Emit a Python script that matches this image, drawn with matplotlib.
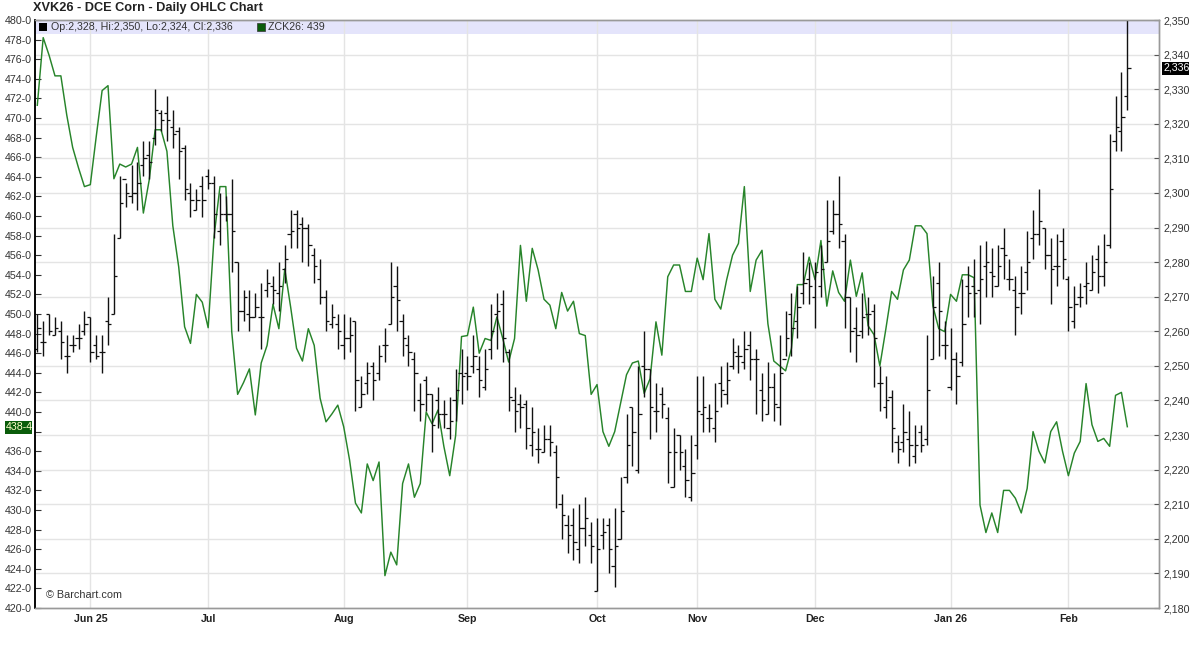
import matplotlib
matplotlib.use("Agg")
import matplotlib.pyplot as plt
from matplotlib.patches import Rectangle
import numpy as np

plt.rcParams["font.family"] = ["Liberation Sans", "DejaVu Sans"]

# DCE corn daily bars, May contract
hi = [2265,2263,2265,2264,2263,2259,2259,2262,2266,2264,2259,2259,2270,2288,2305,2303,2308,2309,2315,2315,
      2330,2324,2328,2324,2319,2314,2303,2301,2305,2307,2305,2300,2299,2304,2280,2272,2272,2271,2274,2278,
      2276,2280,2285,2295,2295,2293,2291,2284,2281,2272,2268,2265,2265,2264,2263,2247,2251,2251,2256,2261,
      2280,2279,2265,2259,2254,2245,2247,2242,2244,2240,2241,2249,2255,2253,2259,2253,2255,2268,2271,2272,
      2255,2244,2242,2240,2238,2232,2233,2233,2227,2213,2207,2209,2210,2212,2205,2206,2206,2206,2209,2218,
      2236,2238,2250,2260,2249,2245,2244,2238,2232,2230,2226,2230,2247,2247,2239,2245,2250,2251,2258,2256,
      2260,2260,2255,2248,2251,2248,2259,2266,2271,2273,2283,2280,2280,2285,2298,2298,2305,2288,2270,2267,
      2271,2270,2268,2250,2247,2243,2230,2239,2237,2233,2233,2259,2276,2280,2263,2261,2254,2275,2279,2281,
      2285,2286,2284,2285,2290,2281,2276,2279,2289,2295,2301,2290,2287,2288,2290,2276,2273,2274,2280,2282,
      2285,2288,2317,2328,2335,2350]
lo = [2254,2253,2259,2259,2252,2248,2254,2255,2259,2251,2252,2248,2256,2265,2287,2296,2297,2295,2305,2304,
      2314,2318,2315,2313,2304,2298,2293,2295,2293,2301,2287,2285,2292,2277,2260,2263,2260,2264,2255,2270,
      2268,2266,2274,2284,2284,2280,2279,2274,2268,2260,2261,2255,2252,2254,2237,2238,2242,2240,2246,2251,
      2262,2260,2253,2250,2237,2234,2237,2225,2232,2232,2229,2234,2239,2243,2248,2241,2243,2252,2255,2251,
      2237,2231,2232,2226,2224,2222,2225,2224,2209,2200,2196,2194,2193,2198,2193,2185,2197,2190,2186,2200,
      2216,2221,2219,2241,2229,2231,2235,2216,2215,2220,2212,2211,2223,2231,2231,2228,2238,2239,2249,2248,
      2249,2246,2236,2234,2236,2234,2233,2253,2253,2258,2268,2268,2261,2270,2280,2288,2284,2261,2254,2251,
      2258,2259,2244,2237,2235,2225,2222,2225,2221,2222,2225,2227,2252,2253,2252,2243,2239,2250,2264,2264,
      2262,2270,2270,2273,2275,2272,2259,2265,2272,2281,2285,2278,2268,2273,2275,2260,2261,2267,2268,2272,
      2271,2273,2284,2312,2312,2324]
op = [2255,2257,2265,2259,2260,2253,2256,2258,2260,2264,2256,2254,2263,2265,2287,2304,2299,2300,2308,2311,
      2316,2323,2323,2319,2318,2313,2300,2295,2302,2305,2303,2289,2294,2294,2280,2266,2265,2264,2264,2272,
      2273,2271,2278,2288,2294,2291,2290,2282,2275,2270,2262,2262,2256,2258,2263,2238,2245,2250,2248,2256,
      2262,2273,2263,2256,2252,2240,2246,2242,2240,2236,2232,2240,2248,2248,2250,2249,2244,2255,2265,2268,
      2254,2240,2239,2239,2227,2226,2225,2229,2225,2210,2204,2204,2197,2203,2201,2185,2201,2204,2192,2200,
      2218,2238,2220,2250,2249,2237,2242,2235,2215,2230,2221,2212,2227,2236,2235,2232,2245,2242,2250,2253,
      2251,2256,2252,2243,2236,2244,2238,2252,2265,2263,2271,2275,2270,2273,2280,2289,2294,2286,2270,2261,
      2260,2265,2266,2245,2238,2241,2228,2228,2229,2224,2231,2229,2252,2274,2256,2244,2252,2251,2273,2273,
      2272,2279,2277,2273,2284,2275,2272,2271,2277,2287,2288,2290,2282,2279,2286,2275,2263,2270,2273,2272,
      2281,2276,2285,2315,2318,2328]
cl = [2261,2257,2260,2261,2257,2253,2256,2258,2262,2254,2253,2254,2262,2276,2297,2300,2300,2303,2310,2309,
      2324,2321,2321,2317,2312,2301,2298,2298,2298,2303,2294,2294,2294,2289,2266,2270,2264,2267,2264,2274,
      2272,2273,2281,2289,2290,2290,2285,2279,2270,2263,2264,2260,2258,2259,2246,2242,2248,2246,2253,2256,
      2270,2269,2258,2254,2248,2239,2242,2233,2236,2236,2234,2243,2247,2247,2253,2246,2249,2260,2266,2258,
      2241,2237,2238,2232,2231,2226,2229,2228,2218,2207,2201,2199,2203,2206,2198,2197,2202,2197,2198,2208,
      2227,2231,2236,2249,2238,2237,2239,2225,2225,2225,2217,2219,2237,2238,2235,2237,2243,2246,2254,2253,
      2255,2252,2252,2240,2244,2239,2248,2258,2261,2267,2274,2273,2277,2278,2286,2294,2291,2270,2260,2259,
      2264,2265,2258,2245,2240,2232,2226,2231,2227,2227,2227,2243,2267,2266,2256,2252,2247,2262,2271,2271,
      2275,2280,2276,2279,2282,2275,2267,2271,2280,2288,2292,2282,2278,2279,2281,2267,2268,2270,2274,2277,
      2276,2280,2301,2319,2322,2336]

# CBOT corn (ZCK26), left scale
corn = [471.3,478.2,476.4,474.3,474.3,470.3,467,464.9,463,463.2,468.1,472.8,473.3,463.8,465.3,465,465.3,467,460.3,463.7,
        468.8,468.8,466.6,459,454.8,448.7,447,452,451.2,448.6,457.9,463,463,448.2,441.8,443,444.4,439.7,445,446.8,
        451,448.5,454.6,450.7,446.5,445.2,448.5,446.8,441.4,439,439.8,440.7,438.5,435.1,430.7,429.7,434.7,433,434.9,423.3,
        425.7,424.4,432.7,434.7,431.3,432.7,440,438.8,440.2,436.5,433.5,437.6,447.7,447.8,450.7,446,447.5,447.3,449.7,447.5,
        445.1,447.5,457,451.3,456.7,454.5,451.5,450.9,448.5,452.2,450.3,451.3,448,447.8,441.8,442.8,438,436.5,438,440.9,
        443.8,445,445.2,441.9,443.4,449.2,445.8,453.8,455,455,452.3,452.3,455.7,453.5,458.2,451.5,450.5,453.5,456,457.2,
        463,452.3,455.5,456.5,449,445.2,444.7,444.2,446.5,453,453,455.8,453.5,457.5,450.8,454.4,452.2,451.3,455.5,451.8,
        454.2,448.8,447.9,444.7,448.4,452.3,451.5,454.5,455.5,459,459,458.2,450.8,448.5,448.2,452,451.3,454,454,453.7,
        430.5,427.7,429.7,427.7,432,432,431.2,429.7,432.2,438,436,434.8,438,439,436,433.5,435.8,437,442.9,438.7,
        437,437.3,436.5,441.7,442,438.5]

month_bars = [9, 29, 52, 73, 95, 112, 132, 155, 175]
month_labels = ["Jun 25", "Jul", "Aug", "Sep", "Oct", "Nov", "Dec", "Jan 26", "Feb"]

W, H = 1200, 648
BAR_W = 5.892
X0 = 37.3
FS = 7.7


def fx(px):
    return px / W


def fy(py):
    return 1 - py / H


fig = plt.figure(figsize=(12, 6.48), dpi=100, facecolor="white")
rect = [fx(35), fy(608), fx(1159) - fx(35), fy(20) - fy(608)]

# left scale axes carries grid and the green line, bars go on top
ax_corn = fig.add_axes(rect, zorder=1)
ax_bars = fig.add_axes(rect, zorder=2, sharex=ax_corn)
ax_bars.patch.set_visible(False)

x = np.arange(len(hi))
ax_corn.set_xlim((35 - X0) / BAR_W, (1159 - X0) / BAR_W)
ax_bars.set_ylim(2180, 2350)
ax_corn.set_ylim(420, 480)

# bars
ax_bars.vlines(x, lo, hi, color="#111111", lw=1.0)
ax_bars.hlines(op, x - 0.55, x, color="#111111", lw=0.9)
ax_bars.hlines(cl, x, x + 0.55, color="#111111", lw=0.9)
ax_corn.plot(x, corn, color="#27842a", lw=1.05, zorder=3)

# grid: horizontal lines follow the right hand scale
right_ticks = np.arange(2180, 2351, 10)
ax_bars.yaxis.tick_right()
ax_bars.set_yticks(right_ticks)
ax_bars.set_yticklabels([f"{v:,}" for v in right_ticks], fontsize=FS, color="#333333")
ax_bars.tick_params(axis="y", direction="in", length=3.5, width=0.8, color="#555555", pad=3.5)
ax_bars.tick_params(axis="x", bottom=False, labelbottom=False)

# the 438 label sits behind the last value flag
ax_corn.set_yticks(np.arange(420, 481, 2))
ax_corn.set_yticklabels(["" if v == 438 else f"{v}-0" for v in range(420, 481, 2)],
                        fontsize=FS, color="#333333")
ax_corn.tick_params(axis="y", direction="in", length=4, width=0.8, color="#333333", pad=2.5)
ax_corn.set_yticks(420 + (right_ticks - 2180) * 60 / 170, minor=True)
ax_corn.tick_params(axis="y", which="minor", length=0)
ax_corn.grid(True, which="minor", axis="y", color="#e4e4e4", lw=1.0)
ax_corn.set_axisbelow(True)

ax_corn.set_xticks(month_bars)
ax_corn.set_xticklabels(month_labels, fontsize=7.7, fontweight="bold", color="#222222")
ax_corn.tick_params(axis="x", length=0, pad=4)
ax_corn.grid(True, which="major", axis="x", color="#e4e4e4", lw=1.0)

for a in (ax_corn, ax_bars):
    for side in ("top", "bottom", "right"):
        a.spines[side].set_color("#999999")
        a.spines[side].set_linewidth(1.0)
    a.spines["left"].set_color("black")
    a.spines["left"].set_linewidth(1.1)

# legend band
fig.add_artist(Rectangle((fx(35), fy(33.5)), fx(1159) - fx(35), fy(20) - fy(33.5),
                         transform=fig.transFigure, facecolor="#e4e4fb", edgecolor="none", zorder=0))
ax_corn.patch.set_visible(False)
fig.add_artist(Rectangle((fx(39), fy(31)), fx(8), fy(0) - fy(8), transform=fig.transFigure,
                         facecolor="black", edgecolor="none", zorder=5))
fig.text(fx(51), fy(27), "Op:2,328, Hi:2,350, Lo:2,324, Cl:2,336", fontsize=FS, color="#333333",
         va="center", zorder=5)
fig.add_artist(Rectangle((fx(256.5), fy(31)), fx(8), fy(0) - fy(8), transform=fig.transFigure,
                         facecolor="#0a5c0a", edgecolor="#333333", lw=0.5, zorder=5))
fig.text(fx(268), fy(27), "ZCK26: 439", fontsize=FS, color="#333333", va="center", zorder=5)

fig.text(fx(33), fy(8), "XVK26 - DCE Corn - Daily OHLC Chart", fontsize=9.15, fontweight="bold",
         color="#222222", va="center", zorder=5)
fig.text(fx(45.5), fy(595.5), "© Barchart.com", fontsize=7.8, color="#333333", va="center", zorder=5)

# last value flags
fig.add_artist(Rectangle((fx(5), fy(433.5)), fx(27), fy(421) - fy(433.5), transform=fig.transFigure,
                         facecolor="#0a5c0a", edgecolor="none", zorder=5))
fig.text(fx(6), fy(427), "438-4", fontsize=FS, color="#ffffcc", va="center", zorder=6)
fig.add_artist(Rectangle((fx(1162), fy(74.5)), fx(27), fy(62) - fy(74.5), transform=fig.transFigure,
                         facecolor="black", edgecolor="none", zorder=5))
fig.text(fx(1163), fy(68), "2,336", fontsize=FS, color="white", va="center", zorder=6)

fig.savefig("out.png", dpi=100, facecolor="white")
plt.close(fig)
